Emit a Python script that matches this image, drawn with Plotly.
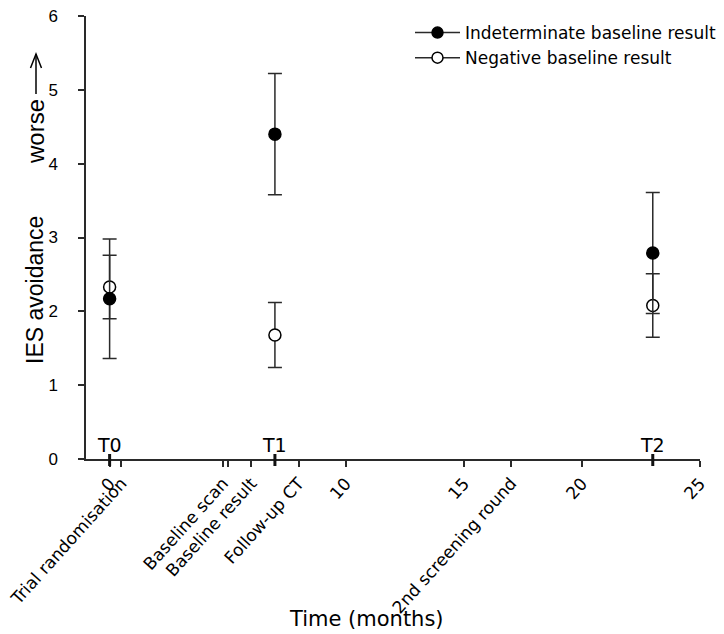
import plotly.graph_objects as go

# ---- data ----
times = [0, 7, 23]
time_labels = ["T0", "T1", "T2"]
indeterminate_mean = [2.17, 4.40, 2.79]
indeterminate_err = [0.81, 0.82, 0.82]
negative_mean = [2.33, 1.68, 2.08]
negative_err = [0.43, 0.44, 0.43]

xtick_vals = [0, 0.5, 4.8, 5, 6, 8, 10, 15, 17, 20, 25]
xtick_text = ["0", "Trial randomisation", "Baseline scan", "", "Baseline result",
              "Follow-up CT", "10", "15", "2nd screening round", "20", "25"]
ytick_vals = [0, 1, 2, 3, 4, 5, 6]

AX = "#2a2a2a"
FONT_V = "DejaVu Sans"
FONT_A = "Liberation Sans, Arial"

fig = go.Figure()

# data traces (open first so filled lies on top)
fig.add_trace(go.Scatter(
    x=times, y=negative_mean, mode="markers", showlegend=False,
    marker=dict(size=12, color="white", line=dict(color="black", width=1.5)),
    error_y=dict(type="data", array=negative_err, symmetric=True,
                 color=AX, thickness=1.5, width=7),
))
fig.add_trace(go.Scatter(
    x=times, y=indeterminate_mean, mode="markers", showlegend=False,
    marker=dict(size=12, color="black", line=dict(color="black", width=1.5)),
    error_y=dict(type="data", array=indeterminate_err, symmetric=True,
                 color=AX, thickness=1.5, width=7),
))

# legend-only traces
fig.add_trace(go.Scatter(
    x=[None], y=[None], mode="lines+markers", name="Indeterminate baseline result",
    line=dict(color=AX, width=1.5),
    marker=dict(size=11, color="black", line=dict(color="black", width=1.5)),
))
fig.add_trace(go.Scatter(
    x=[None], y=[None], mode="lines+markers", name="Negative baseline result",
    line=dict(color=AX, width=1.5),
    marker=dict(size=11, color="white", line=dict(color="black", width=1.5)),
))

# page has an 8px body margin: work in reference pixel coords, shifted by OFF
OFF = 8
W, H = 724 - OFF, 634 - OFF
PLOT_L, PLOT_R, PLOT_T, PLOT_B = 86, 700, 16, 459   # reference pixel coords
L, T = PLOT_L - OFF, PLOT_T - OFF
R, B = W - (PLOT_R - OFF), H - (PLOT_B - OFF)
PW, PH = PLOT_R - PLOT_L, PLOT_B - PLOT_T

def px(xp):
    return (xp - PLOT_L) / PW

def py(yp):
    return (PLOT_B - yp) / PH

shapes = []
annotations = []
for t, lab in zip(times, time_labels):
    shapes.append(dict(type="line", xref="x", yref="paper", x0=t, x1=t,
                       y0=-7 / PH, y1=5 / PH, line=dict(color="#111", width=3)))
    annotations.append(dict(x=t, y=py(445), xref="x", yref="paper", text=lab,
                            showarrow=False, xanchor="center", yanchor="middle",
                            font=dict(family=FONT_V, size=19, color="black")))

# y-axis title pieces
annotations.append(dict(x=px(35), y=py(290), xref="paper", yref="paper",
                        text="IES avoidance", textangle=-90, showarrow=False,
                        xanchor="center", yanchor="middle",
                        font=dict(family=FONT_A, size=23, color="black")))
annotations.append(dict(x=px(35), y=py(132), xref="paper", yref="paper",
                        text="worse", textangle=-90, showarrow=False,
                        xanchor="center", yanchor="middle",
                        font=dict(family=FONT_A, size=24, color="black")))
# arrow
ax_x = px(36)
shapes.append(dict(type="line", xref="paper", yref="paper",
                   x0=ax_x, x1=ax_x, y0=py(94), y1=py(54),
                   line=dict(color="black", width=1.5)))
shapes.append(dict(type="path", xref="paper", yref="paper",
                   path=f"M {px(30.5)} {py(68)} L {ax_x} {py(54)} L {px(41.5)} {py(68)}",
                   line=dict(color="black", width=1.5)))

# x-axis title
annotations.append(dict(x=px(366), y=py(619), xref="paper", yref="paper",
                        text="Time (months)", showarrow=False,
                        xanchor="center", yanchor="middle",
                        font=dict(family=FONT_V, size=21, color="black")))

fig.update_layout(
    width=W, height=H,
    margin=dict(l=L, r=R, t=T, b=B, autoexpand=False),
    paper_bgcolor="white", plot_bgcolor="white",
    shapes=shapes, annotations=annotations,
    legend=dict(x=px(410), y=py(15), xanchor="left", yanchor="top",
                font=dict(family=FONT_V, size=17, color="black"),
                itemwidth=45,
                bgcolor="rgba(0,0,0,0)", traceorder="normal"),
    xaxis=dict(range=[-1, 25], showgrid=False, zeroline=False,
               showline=True, linecolor=AX, linewidth=1.5,
               ticks="outside", ticklen=6, tickwidth=1.5, tickcolor=AX,
               tickmode="array", tickvals=xtick_vals, ticktext=xtick_text,
               tickangle=-48, tickfont=dict(family=FONT_V, size=17, color="black"),
               ticklabeloverflow="allow", automargin=False),
    yaxis=dict(range=[0, 6], showgrid=False, zeroline=False,
               showline=True, linecolor=AX, linewidth=1.5,
               ticks="outside", ticklen=6, tickwidth=1.5, tickcolor=AX,
               tickmode="array", tickvals=ytick_vals,
               tickfont=dict(family=FONT_A, size=17, color="black"),
               ticklabelstandoff=17, ticklabeloverflow="allow", automargin=False),
)

fig.write_html("out.html")
